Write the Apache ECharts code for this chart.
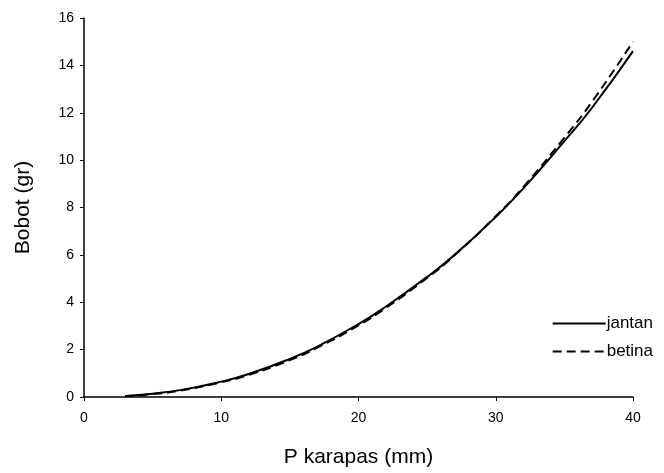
<!DOCTYPE html>
<html>
<head>
<meta charset="utf-8">
<script src="https://cdn.jsdelivr.net/npm/echarts@6/dist/echarts.min.js"></script>
<style>html,body{margin:0;padding:0;background:#fff;}#c{width:664px;height:473px;}</style>
</head>
<body>
<div id="c"></div>
<script>
// Carapace length (mm)
var lengths = [3, 5, 7, 10, 12, 15, 17, 20, 22, 25, 27, 30, 32, 35, 37, 40];
// Weight (gr)
var jantan = [0.04, 0.14, 0.29, 0.65, 0.97, 1.61, 2.13, 3.08, 3.82, 5.07, 6.0, 7.6, 8.8, 10.8, 12.2, 14.6];
var betina = [0.03, 0.12, 0.27, 0.62, 0.93, 1.56, 2.08, 3.02, 3.76, 5.03, 5.98, 7.63, 8.86, 10.95, 12.45, 15.0];
var seriesNames = ['jantan', 'betina'];
var xTitle = 'P karapas (mm)';
var yTitle = 'Bobot (gr)';

function pairs(xs, ys) { return xs.map(function (x, i) { return [x, ys[i]]; }); }

var font = 'Liberation Sans, Arial, sans-serif';
var chart = echarts.init(document.getElementById('c'), null, {renderer: 'canvas'});
chart.setOption({
  animation: false,
  backgroundColor: '#fff',
  textStyle: {fontFamily: font, color: '#000'},
  grid: {left: 84, right: 31, top: 18, bottom: 70, containLabel: false},
  legend: {
    orient: 'vertical', right: 6, top: 310, itemWidth: 53, itemHeight: 2, itemGap: 11,
    data: seriesNames,
    itemStyle: {color: 'rgba(0,0,0,0)', borderWidth: 0, opacity: 0},
    textStyle: {fontFamily: font, fontSize: 17, color: '#000', padding: [0, 0, 0, -4]}
  },
  xAxis: {
    type: 'value', min: 0, max: 40, interval: 10,
    name: xTitle, nameLocation: 'middle', nameGap: 50,
    nameTextStyle: {fontFamily: font, fontSize: 21, color: '#000'},
    axisLine: {lineStyle: {color: '#000', width: 1.5}},
    axisTick: {show: true, length: 4, lineStyle: {color: '#000'}},
    axisLabel: {fontFamily: font, fontSize: 14, color: '#000', margin: 14},
    splitLine: {show: false}
  },
  yAxis: {
    type: 'value', min: 0, max: 16, interval: 2,
    name: yTitle, nameLocation: 'middle', nameGap: 50,
    nameTextStyle: {fontFamily: font, fontSize: 21, color: '#000'},
    axisLine: {show: true, lineStyle: {color: '#000', width: 1.5}},
    axisTick: {show: true, length: 4, lineStyle: {color: '#000'}},
    axisLabel: {fontFamily: font, fontSize: 14, color: '#000', margin: 10},
    splitLine: {show: false}
  },
  series: [
    {name: seriesNames[0], type: 'line', smooth: true, symbol: 'none',
     lineStyle: {color: '#000', width: 2, type: 'solid'}, itemStyle: {color: '#000'},
     data: pairs(lengths, jantan)},
    {name: seriesNames[1], type: 'line', smooth: true, symbol: 'none',
     lineStyle: {color: '#000', width: 2, type: [9, 5]}, itemStyle: {color: '#000'},
     data: pairs(lengths, betina)}
  ]
});
</script>
</body>
</html>
